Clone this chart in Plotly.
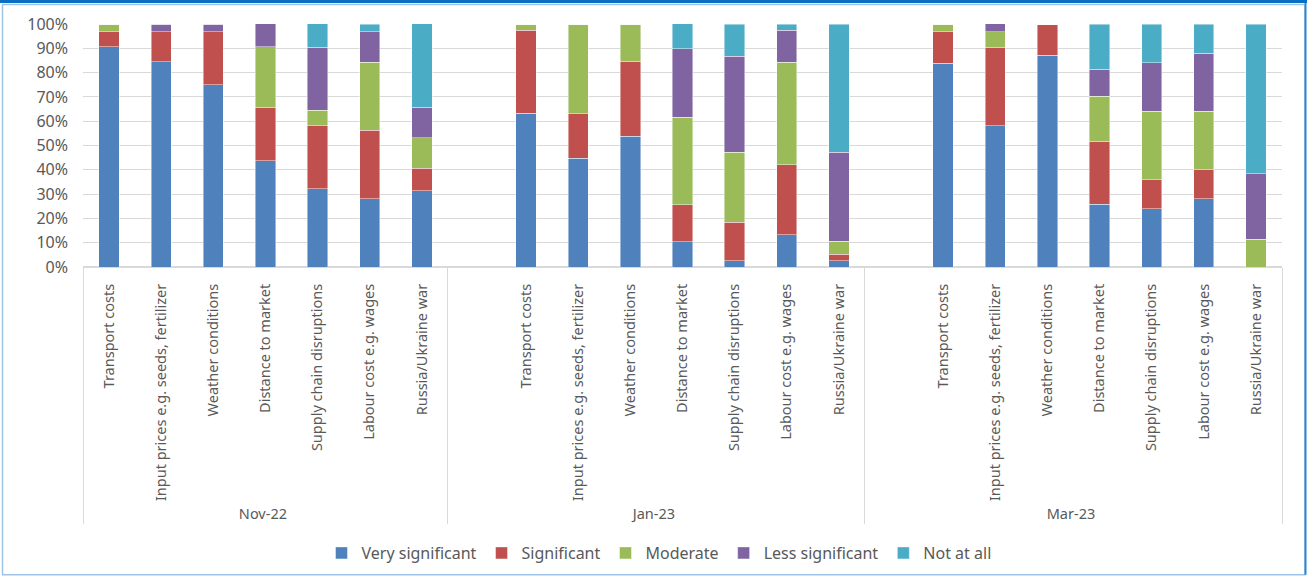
import plotly.graph_objects as go

# ---- data (percent of respondents) ----
periods = ["Nov-22", "Jan-23", "Mar-23"]
factors = [
    "Transport costs",
    "Input prices e.g. seeds, fertilizer",
    "Weather conditions",
    "Distance to market",
    "Supply chain disruptions",
    "Labour cost e.g. wages",
    "Russia/Ukraine war",
]
blank_cat = " "  # empty category that opens the Jan-23 and Mar-23 groups

levels = ["Very significant", "Significant", "Moderate", "Less significant", "Not at all"]
level_colors = ["#4F81BD", "#C0504D", "#9BBB59", "#8064A2", "#4BACC6"]

# each list: 7 factors for Nov-22, then Jan-23, then Mar-23
very_significant = [90.6, 84.4, 75.0, 43.8, 32.3, 28.1, 31.3,
                    63.2, 44.7, 53.8, 10.3, 2.6, 13.2, 2.6,
                    83.9, 58.1, 87.1, 25.9, 24.0, 28.0, 0.0]
significant = [6.3, 12.5, 21.9, 21.9, 25.8, 28.1, 9.4,
               34.2, 18.4, 30.8, 15.4, 15.8, 28.9, 2.6,
               12.9, 32.3, 12.9, 25.9, 12.0, 12.0, 0.0]
moderate = [3.1, 0.0, 0.0, 25.0, 6.5, 28.1, 12.5,
            2.6, 36.8, 15.4, 35.9, 28.9, 42.1, 5.3,
            3.2, 6.5, 0.0, 18.5, 28.0, 24.0, 11.5]
less_significant = [0.0, 3.1, 3.1, 9.4, 25.8, 12.5, 12.5,
                    0.0, 0.0, 0.0, 28.2, 39.5, 13.2, 36.8,
                    0.0, 3.2, 0.0, 11.1, 20.0, 24.0, 26.9]
not_at_all = [0.0, 0.0, 0.0, 0.0, 9.7, 3.1, 34.4,
              0.0, 0.0, 0.0, 10.3, 13.2, 2.6, 52.6,
              0.0, 0.0, 0.0, 18.5, 16.0, 12.0, 61.5]

y_ticks = [0, 10, 20, 30, 40, 50, 60, 70, 80, 90, 100]

series = [very_significant, significant, moderate, less_significant, not_at_all]

# ---- build multicategory x with a blank slot before Jan-23 and Mar-23 ----
# Inner labels of later groups get an invisible zero-width suffix so that
# Plotly keeps each group's own order (blank slot first).
x_period, x_factor = [], []
slots = []  # index into the data lists, or None for a blank slot
for p_i, p in enumerate(periods):
    suffix = "\u200b" * p_i
    if p_i > 0:
        x_period.append(p)
        x_factor.append(blank_cat + suffix)
        slots.append(None)
    for f_i, f in enumerate(factors):
        x_period.append(p)
        x_factor.append(f + suffix)
        slots.append(p_i * len(factors) + f_i)

FONT = "Noto Sans"
TXT = "#595959"
GRID = "#D9D9D9"

fig = go.Figure()
for name, color, vals in zip(levels, level_colors, series):
    yv = [None if s is None else vals[s] for s in slots]
    fig.add_trace(go.Bar(
        name=name,
        x=[x_period, x_factor],
        y=yv,
        marker=dict(color=color, line=dict(color="rgba(255,255,255,0.55)", width=0.8)),
        hovertemplate=name + ": %{y}%<extra></extra>",
    ))

W, H = 1307, 579
L, R, T, B = 83, 25, 24, 311
plot_w = W - L - R
plot_h = H - T - B

def px_x(px):
    return (px - L) / plot_w

def px_y(py):
    return (H - B - py) / plot_h

fig.update_layout(
    width=W, height=H,
    barmode="stack",
    bargap=0.61,
    margin=dict(l=L, r=R, t=T, b=B),
    paper_bgcolor="white",
    plot_bgcolor="white",
    font=dict(family=FONT, color=TXT, size=15),
    showlegend=True,
    legend=dict(
        orientation="h",
        x=px_x(659), xanchor="center",
        y=px_y(553), yanchor="middle",
        font=dict(size=16, color=TXT, family=FONT),
        traceorder="normal",
        bgcolor="rgba(0,0,0,0)",
    ),
    xaxis=dict(
        type="multicategory",
        tickangle=-90,
        showgrid=False,
        showline=True,
        linecolor=GRID,
        linewidth=1,
        showdividers=True,
        dividercolor=GRID,
        dividerwidth=1,
        ticks="",
        tickfont=dict(size=14.5, color=TXT, family=FONT),
        ticklabelstandoff=10,
    ),
    yaxis=dict(
        range=[0, 100],
        tickvals=y_ticks,
        ticktext=[f"{v}%" for v in y_ticks],
        showgrid=True,
        gridcolor=GRID,
        gridwidth=1,
        zeroline=True,
        zerolinecolor=GRID,
        showline=False,
        ticks="",
        tickfont=dict(size=16, color=TXT, family=FONT),
        ticklabelstandoff=14,
    ),
    shapes=[
        # chart frame
        dict(type="rect", xref="paper", yref="paper",
             x0=px_x(2.5), x1=px_x(1305), y0=px_y(577), y1=px_y(4.5),
             line=dict(color="#9DC3E6", width=1.5), fillcolor="rgba(0,0,0,0)", layer="below"),
        dict(type="rect", xref="paper", yref="paper",
             x0=px_x(0), x1=px_x(1307), y0=px_y(3), y1=px_y(0),
             line=dict(width=0), fillcolor="#0A6FC2", layer="below"),
        dict(type="line", xref="paper", yref="paper",
             x0=px_x(1305.5), x1=px_x(1305.5), y0=px_y(577), y1=px_y(3),
             line=dict(color="#2E86D1", width=2), layer="below"),
    ],
)

fig.write_html("out.html")
